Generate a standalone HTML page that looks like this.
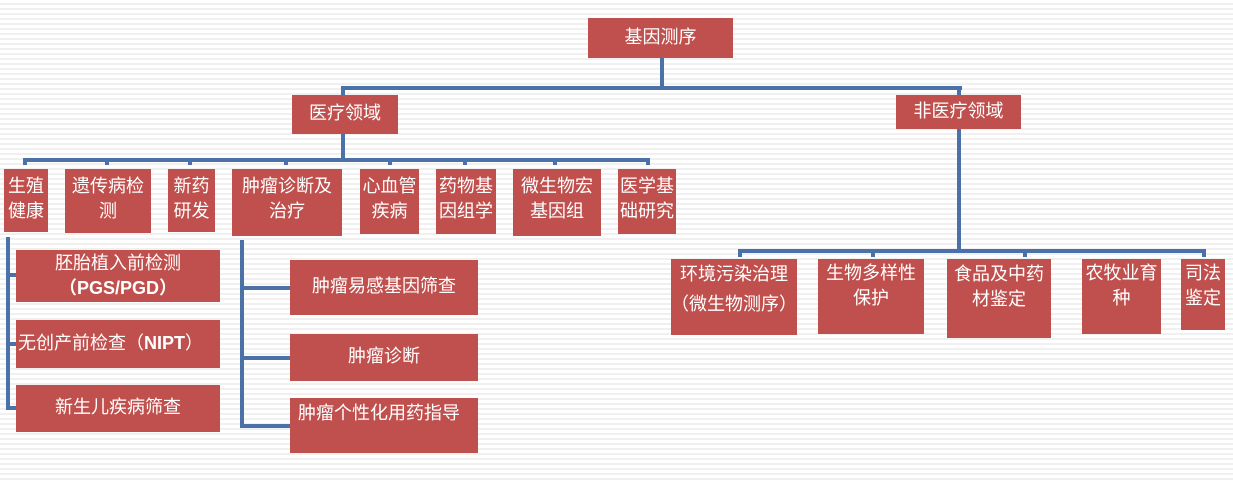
<!DOCTYPE html>
<html><head><meta charset="utf-8"><style>
body{margin:0;width:1233px;height:483px;overflow:hidden;background:#fff repeating-linear-gradient(to bottom,#fff 0,#fff 3px,#f0f0f0 3px,#f0f0f0 5px);position:relative;font-family:"Liberation Sans","Noto Sans CJK SC",sans-serif;}
.b{position:absolute;background:#C0504D;color:#fff;font-size:18px;line-height:25px;text-align:center;box-sizing:border-box;white-space:nowrap;}
.l{position:absolute;background:#4A72A8;}
</style></head><body>
<div class="l" style="left:660px;top:57px;width:4px;height:32px"></div>
<div class="l" style="left:341px;top:86px;width:621px;height:4px"></div>
<div class="l" style="left:341px;top:86px;width:4px;height:10px"></div>
<div class="l" style="left:957px;top:86px;width:4px;height:10px"></div>
<div class="l" style="left:341px;top:133px;width:4px;height:28px"></div>
<div class="l" style="left:23px;top:158px;width:627px;height:4px"></div>
<div class="l" style="left:23px;top:158px;width:4px;height:7px"></div>
<div class="l" style="left:105px;top:158px;width:4px;height:7px"></div>
<div class="l" style="left:188px;top:158px;width:4px;height:7px"></div>
<div class="l" style="left:284px;top:158px;width:4px;height:7px"></div>
<div class="l" style="left:388px;top:158px;width:4px;height:7px"></div>
<div class="l" style="left:463px;top:158px;width:4px;height:7px"></div>
<div class="l" style="left:553px;top:158px;width:4px;height:7px"></div>
<div class="l" style="left:646px;top:158px;width:4px;height:7px"></div>
<div class="l" style="left:957px;top:128px;width:4px;height:124px"></div>
<div class="l" style="left:738px;top:249px;width:467px;height:4px"></div>
<div class="l" style="left:738px;top:249px;width:4px;height:8px"></div>
<div class="l" style="left:871px;top:249px;width:4px;height:8px"></div>
<div class="l" style="left:1023px;top:249px;width:4px;height:8px"></div>
<div class="l" style="left:1202px;top:249px;width:4px;height:8px"></div>
<div class="l" style="left:6px;top:237px;width:4px;height:173px"></div>
<div class="l" style="left:6px;top:273px;width:10px;height:4px"></div>
<div class="l" style="left:6px;top:342px;width:10px;height:4px"></div>
<div class="l" style="left:6px;top:406px;width:10px;height:4px"></div>
<div class="l" style="left:240px;top:240px;width:4px;height:188px"></div>
<div class="l" style="left:240px;top:286px;width:50px;height:4px"></div>
<div class="l" style="left:240px;top:356px;width:50px;height:4px"></div>
<div class="l" style="left:240px;top:424px;width:50px;height:4px"></div>
<div class="b" style="left:588px;top:18px;width:145px;height:40px;padding-top:7px">基因测序</div>
<div class="b" style="left:292px;top:95px;width:106px;height:39px;padding-top:6px">医疗领域</div>
<div class="b" style="left:896px;top:95px;width:125px;height:34px;padding-top:4px">非医疗领域</div>
<div class="b" style="left:4px;top:169px;width:44px;height:63px;padding-top:5px">生殖<br>健康</div>
<div class="b" style="left:65px;top:169px;width:86px;height:64px;padding-top:5px">遗传病检<br>测</div>
<div class="b" style="left:168px;top:169px;width:47px;height:63px;padding-top:5px">新药<br>研发</div>
<div class="b" style="left:232px;top:169px;width:110px;height:67px;padding-top:5px">肿瘤诊断及<br>治疗</div>
<div class="b" style="left:360px;top:169px;width:59px;height:65px;padding-top:5px">心血管<br>疾病</div>
<div class="b" style="left:436px;top:169px;width:60px;height:65px;padding-top:5px">药物基<br>因组学</div>
<div class="b" style="left:513px;top:169px;width:88px;height:67px;padding-top:5px">微生物宏<br>基因组</div>
<div class="b" style="left:618px;top:169px;width:58px;height:65px;padding-top:5px">医学基<br>础研究</div>
<div class="b" style="left:16px;top:250px;width:204px;height:52px;padding-top:1px">胚胎植入前检测<br><b>（PGS/PGD）</b></div>
<div class="b" style="left:16px;top:320px;width:204px;height:48px;padding-top:11px;text-align:left;padding-left:2px">无创产前检查（<b>NIPT</b>）</div>
<div class="b" style="left:16px;top:385px;width:204px;height:47px;padding-top:10px">新生儿疾病筛查</div>
<div class="b" style="left:290px;top:260px;width:188px;height:55px;padding-top:14px">肿瘤易感基因筛查</div>
<div class="b" style="left:290px;top:334px;width:188px;height:47px;padding-top:10px">肿瘤诊断</div>
<div class="b" style="left:290px;top:398px;width:188px;height:55px;padding-top:3px;text-align:left;padding-left:8px">肿瘤个性化用药指导</div>
<div class="b" style="left:671px;top:259px;width:126px;height:76px;padding-top:0px;line-height:30px">环境污染治理<br>（微生物测序）</div>
<div class="b" style="left:818px;top:259px;width:106px;height:75px;padding-top:2px">生物多样性<br>保护</div>
<div class="b" style="left:947px;top:259px;width:104px;height:79px;padding-top:3px">食品及中药<br>材鉴定</div>
<div class="b" style="left:1082px;top:259px;width:79px;height:75px;padding-top:2px">农牧业育<br>种</div>
<div class="b" style="left:1181px;top:259px;width:44px;height:71px;padding-top:2px">司法<br>鉴定</div>
</body></html>
